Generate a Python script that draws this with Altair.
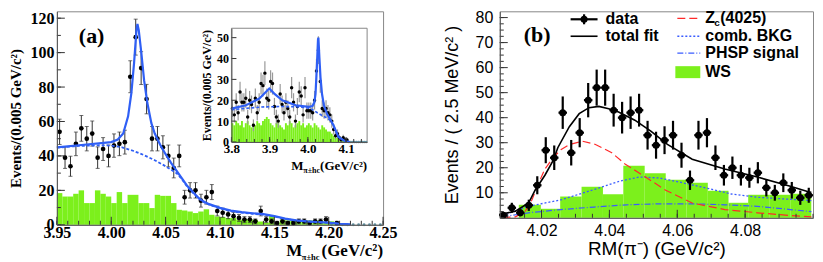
import altair as alt
import numpy as np
import pandas as pd

SERIF = "Liberation Serif"
SANS = "Liberation Sans"
GREEN = "#7cf01c"
BLUE_A = "#2f5ff5"
BLUE_B = "#3a5cff"
RED = "#ff2a2a"

# ---------------- Panel (a) main: M(pi h_c), 0.005 GeV bins from 3.95 ----------------
a_counts = [54, 39, 34, 47, 56, 50, 53, 39, 44, 40,
            46, 47, 48, 86, 109, 91, 73, 50, 50, 45,
            40, 33, 40, 16, 20, 20, 14, 16, 19, 8,
            7, 6, 5, 4, 3, 3, 2, 8, 3, 2,
            1, 2, 1, 1, 2, 2, 1, 2, 2, 3,
            0, 1, 0, 0, 0, 0, 0, 0, 0, 0]
a_ws = [18.4, 16.4, 16.4, 18.0, 20.0, 12.6, 12.6, 20.0, 18.0, 16.4,
        12.6, 19.0, 12.6, 17.4, 17.4, 12.6, 12.6, 9.7, 17.4, 16.8,
        16.8, 12.6, 8.7, 8.3, 7.7, 6.8, 7.7, 9.0, 5.8, 4.8,
        4.5, 3.9, 3.9, 2.9, 3.2, 3.2, 2.9, 1.9, 1.2, 5.4,
        1.2, 3.0, 2.5, 2.5, 2.5, 2.5, 2.5, 2.5, 2.5, 1.0,
        2.0, 0.5, 0, 0, 0, 0, 0, 0, 0, 0]
a_fit_x = [3.950, 3.975, 4.000, 4.006, 4.011, 4.0155, 4.0185, 4.021, 4.0232, 4.0241,
           4.0253, 4.0277, 4.0302, 4.0332, 4.0369, 4.040, 4.045, 4.050, 4.055, 4.060,
           4.065, 4.070, 4.075, 4.080, 4.085, 4.090, 4.100, 4.110, 4.120, 4.130,
           4.140, 4.150, 4.160, 4.170, 4.180, 4.190, 4.200, 4.210, 4.220]
a_fit_y = [45.0, 46.5, 48.0, 49.5, 53.0, 63.0, 76.5, 94.0, 113.0, 116.7,
           113.0, 99.7, 84.0, 70.7, 59.0, 53.0, 46.5, 41.0, 36.0, 31.5,
           27.0, 22.5, 19.0, 15.8, 13.5, 12.0, 9.8, 8.2, 7.3, 6.7,
           6.2, 5.0, 3.6, 2.6, 2.0, 1.6, 1.2, 0.6, 0.3]
a_bkg_x = [3.950, 3.970, 3.990, 4.000, 4.010, 4.020, 4.030, 4.040, 4.050, 4.060,
           4.065, 4.070, 4.075, 4.080, 4.085, 4.090, 4.100, 4.110, 4.120, 4.130,
           4.140, 4.150, 4.160, 4.170, 4.180, 4.190, 4.200, 4.210, 4.220]
a_bkg_y = [44.8, 45.8, 46.2, 46.0, 45.0, 43.0, 40.5, 37.5, 34.0, 30.0,
           26.5, 22.0, 18.7, 15.5, 13.2, 11.7, 9.5, 7.9, 7.0, 6.4,
           5.9, 4.8, 3.4, 2.5, 1.9, 1.5, 1.1, 0.5, 0.2]
a_xticks = [3.95, 4.00, 4.05, 4.10, 4.15, 4.20, 4.25]
a_yticks = [0, 20, 40, 60, 80, 100, 120]

# ---------------- Inset of (a): 0.005 GeV bins from 3.80 ----------------
i_counts = [16, 13, 19, 14, 24, 19, 19, 21, 12, 20,
            18, 8, 21, 14, 19, 28, 27, 33, 21, 20,
            29, 28, 17, 12, 10, 23, 18, 14, 19, 16,
            12, 26, 19, 10, 17, 24, 22, 13, 26, 15,
            15, 15, 14, 20, 34, 44, 29, 16, 15, 16,
            14, 13, 10, 6, 3, 4, 2, 1, 2, 1,
            1, 0, 0, 0, 0, 0, 0, 0, 0, 0, 0]
i_ws = [9, 8, 10, 9, 8, 10, 7, 9, 10, 8,
        7, 9, 8, 10, 9, 8, 10, 11, 12, 11,
        9, 8, 7, 9, 10, 8, 7, 6, 9, 8,
        10, 9, 7, 8, 9, 10, 8, 9, 7, 8,
        9, 8, 7, 9, 8, 7, 6, 8, 7, 6,
        5, 5, 4, 3, 2, 2, 1, 1, 1, 0.5,
        0, 0, 0, 0, 0, 0, 0, 0, 0, 0, 0]
i_fit_x = [3.800, 3.838, 3.873, 3.890, 3.899, 3.912, 3.933, 3.968, 4.003, 4.012,
           4.017, 4.020, 4.0235, 4.0265, 4.0275, 4.030, 4.033, 4.037, 4.042, 4.050,
           4.058, 4.067, 4.080, 4.098, 4.110]
i_fit_y = [16.0, 17.6, 20.8, 24.0, 25.6, 23.2, 20.0, 17.6, 16.8, 17.2,
           19.0, 23.0, 36.0, 49.0, 50.0, 41.0, 31.0, 23.0, 17.5, 13.5,
           11.0, 8.0, 2.4, 0.3, 0.0]
i_bkg_x = [3.800, 3.850, 3.880, 3.930, 3.970, 4.000, 4.012, 4.025, 4.038, 4.050,
           4.058, 4.067, 4.080, 4.098, 4.110]
i_bkg_y = [15.5, 16.3, 16.8, 17.0, 16.9, 16.3, 15.5, 14.0, 12.6, 11.5,
           10.5, 7.8, 2.4, 0.3, 0.0]
i_xticks = [3.8, 3.9, 4.0, 4.1]
i_yticks = [0, 10, 20, 30, 40, 50]

# ---------------- Panel (b): RM(pi-), 2.5 MeV bins ----------------
b_counts = [1, 4, 2, 5, 13, 27, 24, 42, 26, 34,
            47, 52, 52, 43, 40, 42, 43, 33, 29, 31,
            33, 25, 15, 33, 34, 24, 17, 20, 17, 16,
            18, 12, 10, 14, 11, 8, 9]
b_ws_edges = [4.0133, 4.0198, 4.0255, 4.0318, 4.0381, 4.0441, 4.0504, 4.0566,
              4.0627, 4.0690, 4.0751, 4.0809, 4.0871, 4.0933, 4.0995]
b_ws_h = [5.2, 3.6, 8.5, 12.4, 9.4, 20.8, 17.8, 15.2, 14.0, 10.8, 6.0, 9.2, 9.2, 9.6]
b_fit_x = [4.0075, 4.0123, 4.0162, 4.0181, 4.0210, 4.0234, 4.0248, 4.0282, 4.0311, 4.0340,
           4.0369, 4.0398, 4.0427, 4.0475, 4.0523, 4.0571, 4.0644, 4.0740, 4.0836, 4.0933,
           4.0986, 4.0995]
b_fit_y = [1.3, 2.6, 5.9, 11.0, 17.0, 22.8, 28.0, 36.4, 41.6, 44.0,
           44.5, 43.6, 42.3, 39.0, 34.5, 29.3, 23.4, 19.5, 16.3, 12.6,
           10.4, 10.2]
b_zc_x = [4.0085, 4.0123, 4.0152, 4.0172, 4.0191, 4.0210, 4.0234, 4.0258, 4.0282, 4.0321,
          4.0359, 4.0407, 4.0446, 4.0504, 4.0566, 4.0644, 4.0740, 4.0836, 4.0933, 4.0995]
b_zc_y = [0.1, 0.4, 2.6, 7.2, 13.7, 19.5, 24.0, 27.3, 29.3, 30.6,
          29.3, 26.0, 21.5, 16.5, 11.0, 5.9, 3.3, 2.0, 0.9, 0.4]
b_bkg_x = [4.0085, 4.0162, 4.0258, 4.0355, 4.0432, 4.0489, 4.0547, 4.0605, 4.0692, 4.0759,
           4.0836, 4.0933, 4.0995]
b_bkg_y = [0.9, 4.6, 7.2, 11.3, 14.7, 16.3, 15.9, 14.3, 11.7, 9.5, 8.2, 7.4, 6.9]
b_ph_x = [4.0085, 4.0162, 4.0258, 4.0355, 4.0451, 4.0547, 4.0644, 4.0740, 4.0836, 4.0933, 4.0995]
b_ph_y = [0.4, 2.0, 3.3, 4.3, 5.2, 5.6, 5.6, 5.2, 4.6, 3.3, 2.5]
b_xticks = [4.02, 4.04, 4.06, 4.08]
b_yticks = [10, 20, 30, 40, 50, 60, 70, 80]


# ---------------- helpers ----------------
def pts_df(first_center, width, counts):
    x = [first_center + width * i for i in range(len(counts))]
    d = pd.DataFrame({"x": x, "n": counts})
    e = np.sqrt(d["n"].astype(float))
    d["lo"] = d["n"] - e
    d["hi"] = d["n"] + e
    d["xl"] = d["x"] - width / 2
    d["xr"] = d["x"] + width / 2
    return d


def hist_df(edges, heights):
    return pd.DataFrame({"x1": edges[:-1], "x2": edges[1:], "h": heights, "z": 0.0})


def curve_df(xs, ys):
    return pd.DataFrame({"x": xs, "y": ys})


ONE = pd.DataFrame({"d": [0]})


def txt(text, x, y, size, font=SERIF, weight="bold", align="left", baseline="alphabetic", color="black"):
    return alt.Chart(ONE).mark_text(text=text, font=font, fontWeight=weight, fontSize=size,
                                    align=align, baseline=baseline, color=color).encode(
        x=alt.value(x), y=alt.value(y))


class Frame:
    """Scales + axes of one coordinate frame; every layer uses the same axis object."""

    def __init__(self, xs, ys, ax, ay):
        self.xs, self.ys, self.ax, self.ay = xs, ys, ax, ay

    def X(self, f):
        return alt.X(f, scale=self.xs, axis=self.ax)

    def Y(self, f):
        return alt.Y(f, scale=self.ys, axis=self.ay)

    def hist(self, edges, heights, color=GREEN):
        return alt.Chart(hist_df(edges, heights)).mark_rect(color=color).encode(
            x=self.X("x1:Q"), x2="x2", y=self.Y("z:Q"), y2="h")

    def line(self, xs, ys, **kw):
        return alt.Chart(curve_df(xs, ys)).mark_line(**kw).encode(x=self.X("x:Q"), y=self.Y("y:Q"))

    def ticks_x(self, vals, y0, length, color="#333"):
        return alt.Chart(pd.DataFrame({"t": vals})).mark_rule(color=color, strokeWidth=1).encode(
            x=self.X("t:Q"), y=alt.value(y0), y2=alt.value(y0 - length))

    def ticks_y(self, vals, x0, length, color="#333"):
        return alt.Chart(pd.DataFrame({"t": vals})).mark_rule(color=color, strokeWidth=1).encode(
            y=self.Y("t:Q"), x=alt.value(x0), x2=alt.value(x0 + length))


# ================= Panel (a) =================
WA, HA = 327, 214
FA = Frame(
    alt.Scale(domain=[3.95, 4.25], nice=False, zero=False),
    alt.Scale(domain=[0, 124], nice=False, zero=False),
    alt.Axis(values=a_xticks, format=".2f", title=None, ticks=False, labelFont=SERIF,
             labelFontWeight="bold", labelFontSize=16, labelColor="black", labelPadding=0,
             domainColor="#555", labelFlush=False, labelOverlap=False, zindex=1, grid=False),
    alt.Axis(values=a_yticks, format="d", title="Events/(0.005 GeV/c²)", titleFont=SERIF,
             titleFontWeight="bold", titleFontSize=15, titleColor="black", titlePadding=6,
             ticks=False, labelFont=SERIF, labelFontWeight="bold", labelFontSize=16,
             labelColor="black", labelPadding=3, domainColor="#555", zindex=1, grid=False),
)

dfa = pts_df(3.9525, 0.005, a_counts)
dfa_pos = dfa[dfa["n"] > 0]
dfa_zero = dfa[dfa["n"] == 0]
a_edges = [3.95 + 0.005 * i for i in range(len(a_ws) + 1)]

a_err = alt.Chart(dfa_pos).mark_rule(color="#333", strokeWidth=1).encode(
    x=FA.X("x:Q"), y=FA.Y("lo:Q"), y2="hi")
a_cap_lo = alt.Chart(dfa_pos).mark_tick(color="#333", thickness=1, size=4, orient="horizontal").encode(
    x=FA.X("x:Q"), y=FA.Y("lo:Q"))
a_cap_hi = alt.Chart(dfa_pos).mark_tick(color="#333", thickness=1, size=4, orient="horizontal").encode(
    x=FA.X("x:Q"), y=FA.Y("hi:Q"))
a_pts = alt.Chart(dfa_pos).mark_circle(color="black", size=22, opacity=1).encode(
    x=FA.X("x:Q"), y=FA.Y("n:Q"))
a_zero = alt.Chart(dfa_zero).mark_circle(color="#5f8f9f", size=8, opacity=1).encode(
    x=FA.X("x:Q"), y=FA.Y("n:Q"))

a_xminor = [round(3.95 + 0.01 * i, 2) for i in range(31)]
a_yminor = [10 * i for i in range(13)]

main_a = alt.layer(
    FA.hist(a_edges, a_ws), a_err, a_cap_lo, a_cap_hi, a_zero, a_pts,
    FA.line(a_bkg_x, a_bkg_y, color=BLUE_A, strokeWidth=1.8, strokeDash=[3, 2]),
    FA.line(a_fit_x, a_fit_y, color=BLUE_A, strokeWidth=2.2),
    FA.ticks_x(a_xticks, HA, 8), FA.ticks_x(a_xminor, HA, 4),
    FA.ticks_y(a_yticks, 0, 8), FA.ticks_y(a_yminor, 0, 4),
    txt("(a)", 22, 32, 22),
    txt("M", 230, 245, 17),
    txt("π±hc", 245.5, 249, 8.5),
    txt("(GeV/c²)", WA, 245, 17, align="right"),
    txt("M", 235, 159, 13),
    txt("π±hc", 247, 162, 8),
    txt("(GeV/c²)", 311, 159, 13, align="right"),
)

# ---- inset ----
IX0, IX1, IY0, IY1 = 175, 311, 131, 17
FI = Frame(
    alt.Scale(domain=[3.8, 4.155], range=[IX0, IX1], nice=False, zero=False),
    alt.Scale(domain=[0, 54.5], range=[IY0, IY1], nice=False, zero=False),
    alt.Axis(values=i_xticks, format=".1f", title=None, orient="bottom", offset=-(HA - IY0),
             ticks=False, labelFont=SERIF, labelFontWeight="bold", labelFontSize=13,
             labelColor="black", labelPadding=1, domainColor="#555", labelFlush=False,
             zindex=2, grid=False),
    alt.Axis(values=i_yticks, format="d", title="Events/(0.005 GeV/c²)", orient="left",
             offset=-IX0, titleFont=SERIF, titleFontWeight="bold", titleFontSize=12,
             titleColor="black", titlePadding=3, ticks=False, labelFont=SERIF,
             labelFontWeight="bold", labelFontSize=12, labelColor="black", labelPadding=3,
             domainColor="#555", zindex=2, grid=False),
)

frame = pd.DataFrame({"a": [3.8], "b": [4.155], "c": [0.0], "d": [54.5]})
i_frame = alt.Chart(frame).mark_rect(fill="white", stroke="#888", strokeWidth=1).encode(
    x=FI.X("a:Q"), x2="b", y=FI.Y("c:Q"), y2="d")
dfi = pts_df(3.8025, 0.005, i_counts)
dfi_pos = dfi[dfi["n"] > 0]
dfi_zero = dfi[dfi["n"] == 0]
i_edges = [3.8 + 0.005 * i for i in range(len(i_ws) + 1)]
i_err = alt.Chart(dfi_pos).mark_rule(color="#999", strokeWidth=1.2).encode(
    x=FI.X("x:Q"), y=FI.Y("lo:Q"), y2="hi")
i_pts = alt.Chart(dfi_pos).mark_circle(color="black", size=12, opacity=1).encode(
    x=FI.X("x:Q"), y=FI.Y("n:Q"))
i_zero = alt.Chart(dfi_zero).mark_circle(color="#5f8f9f", size=6, opacity=1).encode(
    x=FI.X("x:Q"), y=FI.Y("n:Q"))
i_xminor = [round(3.8 + 0.02 * i, 2) for i in range(18)]

inset = alt.layer(
    i_frame, FI.hist(i_edges, i_ws), i_err, i_zero, i_pts,
    FI.line(i_bkg_x, i_bkg_y, color=BLUE_A, strokeWidth=1.6, strokeDash=[3, 2]),
    FI.line(i_fit_x, i_fit_y, color=BLUE_A, strokeWidth=2.2),
    FI.ticks_x(i_xticks, IY0, 5), FI.ticks_x(i_xminor, IY0, 3),
    FI.ticks_y(i_yticks, IX0, 5),
)

panel_a = alt.layer(main_a, inset).resolve_scale(x="independent", y="independent").properties(
    width=WA, height=HA)

# ================= Panel (b) =================
WB, HB = 314, 207
FB = Frame(
    alt.Scale(domain=[4.0077, 4.1], nice=False, zero=False),
    alt.Scale(domain=[0, 82.5], nice=False, zero=False),
    alt.Axis(values=b_xticks, format=".2f", title="RM(π⁻)  (GeV/c²)", titleFont=SANS,
             titleFontSize=19, titleFontWeight="normal", titleColor="black", titlePadding=1,
             ticks=False, labelFont=SANS, labelFontSize=16, labelColor="black", labelPadding=5,
             domainColor="#555", labelFlush=False, zindex=1, grid=False),
    alt.Axis(values=b_yticks, format="d", title="Events / ( 2.5 MeV/c² )", titleFont=SANS,
             titleFontSize=18, titleFontWeight="normal", titleColor="black", titlePadding=14,
             ticks=False, labelFont=SANS, labelFontSize=16, labelColor="black", labelPadding=7,
             domainColor="#555", zindex=1, grid=False),
)

dfb = pts_df(4.00875, 0.0025, b_counts)
b_errv = alt.Chart(dfb).mark_rule(color="black", strokeWidth=2.2).encode(
    x=FB.X("x:Q"), y=FB.Y("lo:Q"), y2="hi")
b_errh = alt.Chart(dfb).mark_rule(color="black", strokeWidth=2.2).encode(
    x=FB.X("xl:Q"), x2="xr", y=FB.Y("n:Q"))
b_pts = alt.Chart(dfb).mark_circle(color="black", size=50, opacity=1).encode(
    x=FB.X("x:Q"), y=FB.Y("n:Q"))

b_xminor = [round(4.01 + 0.005 * i, 3) for i in range(19)]
b_yminor = [2.5 * i for i in range(33)]


def leg_line(x1, x2, y, color, width, dash=None):
    kw = dict(color=color, strokeWidth=width)
    if dash:
        kw["strokeDash"] = dash
    return alt.Chart(ONE).mark_rule(**kw).encode(x=alt.value(x1), x2=alt.value(x2), y=alt.value(y))


leg = [
    leg_line(71, 98, 8, "black", 2.2),
    alt.Chart(ONE).mark_rule(color="black", strokeWidth=2.2).encode(
        x=alt.value(84.5), y=alt.value(3), y2=alt.value(13)),
    alt.Chart(ONE).mark_circle(color="black", size=50, opacity=1).encode(x=alt.value(84.5), y=alt.value(8)),
    txt("data", 106, 8, 16, font=SANS, baseline="middle"),
    leg_line(71, 98, 25, "black", 1.6),
    txt("total fit", 106, 25, 16, font=SANS, baseline="middle"),
    leg_line(178, 201, 7, RED, 1.2, [8, 4]),
    txt("Z", 206, 7, 16, font=SANS, baseline="middle"),
    txt("c", 215, 12, 10, font=SANS, baseline="middle"),
    txt("(4025)", 221, 7, 16, font=SANS, baseline="middle"),
    leg_line(178, 201, 25, BLUE_B, 1.3, [2, 2]),
    txt("comb. BKG", 206, 25, 16, font=SANS, baseline="middle"),
    leg_line(178, 201, 42, BLUE_B, 1.2, [6, 2, 1, 2]),
    txt("PHSP signal", 206, 42, 16, font=SANS, baseline="middle"),
    alt.Chart(ONE).mark_rect(color=GREEN).encode(
        x=alt.value(176), x2=alt.value(201), y=alt.value(55), y2=alt.value(67)),
    txt("WS", 206, 61, 16, font=SANS, baseline="middle"),
    txt("(b)", 24, 31, 22),
]

panel_b = alt.layer(
    FB.hist(b_ws_edges, b_ws_h),
    FB.line(b_ph_x, b_ph_y, color=BLUE_B, strokeWidth=1.2, strokeDash=[6, 2, 1, 2]),
    FB.line(b_bkg_x, b_bkg_y, color=BLUE_B, strokeWidth=1.3, strokeDash=[2, 2]),
    FB.line(b_zc_x, b_zc_y, color=RED, strokeWidth=1.2, strokeDash=[8, 4]),
    FB.line(b_fit_x, b_fit_y, color="black", strokeWidth=1.6),
    b_errv, b_errh, b_pts,
    FB.ticks_x(b_xticks, HB, 8), FB.ticks_x(b_xminor, HB, 4),
    FB.ticks_y(b_yticks, 0, 8), FB.ticks_y(b_yminor, 0, 4),
    *leg,
).properties(width=WB, height=HB)

chart = alt.hconcat(panel_a, panel_b, spacing=117, bounds="flush").properties(
    padding=0, background="white"
).configure_view(stroke="#888", strokeWidth=1).configure_axis(grid=False)

chart.save("out.html", embed_options={"renderer": "svg", "actions": False})
